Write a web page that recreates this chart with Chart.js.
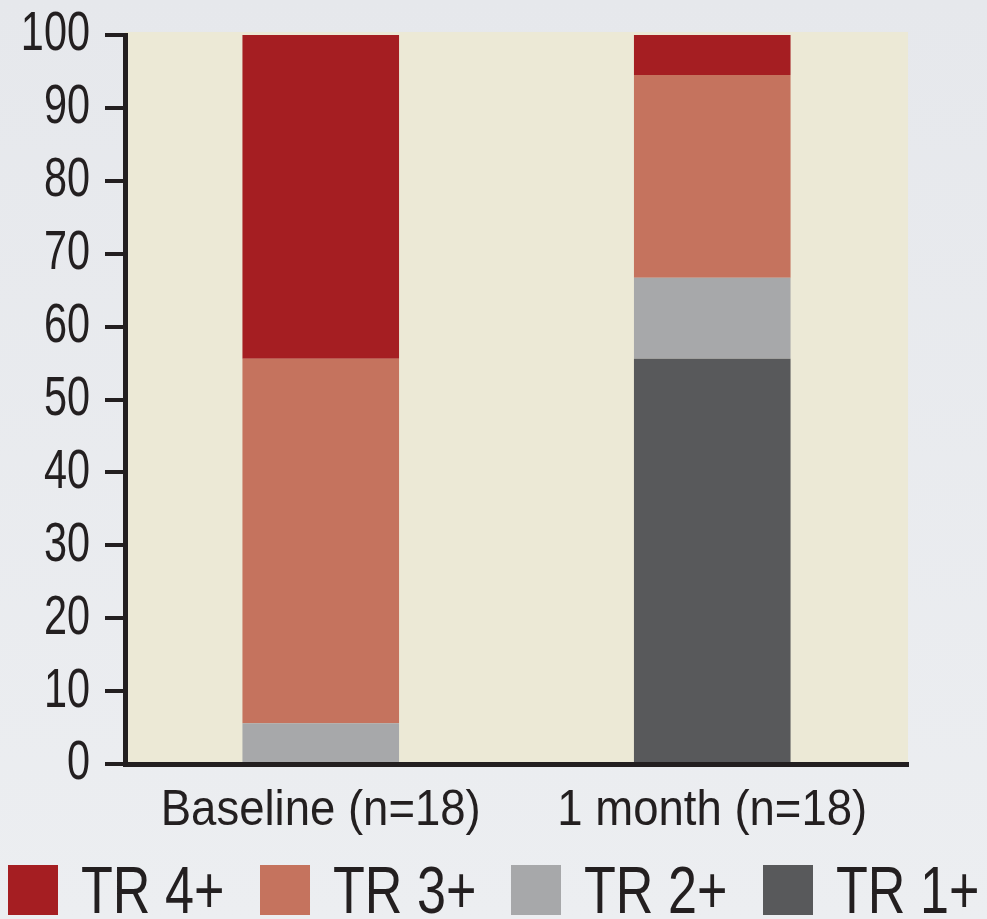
<!DOCTYPE html>
<html>
<head>
<meta charset="utf-8">
<script src="https://cdn.jsdelivr.net/npm/chart.js@4/dist/chart.umd.min.js"></script>
<style>
  html, body { margin: 0; padding: 0; }
  body {
    width: 987px; height: 919px; overflow: hidden;
    background: linear-gradient(180deg, #e6e8ec 0%, #eceef1 100%);
  }
  #wrap { position: relative; width: 987px; height: 919px; }
  #c { position: absolute; left: 0; top: 0; }
  #legend {
    position: absolute; left: 8px; top: 865px; width: 971px; height: 50px;
    display: flex; justify-content: space-between; align-items: center;
  }
  .item { display: flex; align-items: center; height: 50px; }
  .swatch { width: 50px; height: 50px; margin-right: 23px; flex: none; }
  .label { display: inline-block; white-space: nowrap; overflow: visible; height: 66px; }
  .label span {
    display: inline-block; transform-origin: 0 50%;
    font-family: "Liberation Sans", Arimo, Arial, sans-serif;
    font-size: 66px; line-height: 66px; color: #231f20;
  }
</style>
</head>
<body>
<div id="wrap">
  <canvas id="c" width="987" height="919"></canvas>
  <div id="legend"></div>
</div>
<script>
// Timepoints on the x axis
const categories = ['Baseline (n=18)', '1 month (n=18)'];
// Share of patients (%) in each tricuspid regurgitation grade
const tr1 = [0, 55.6];
const tr2 = [5.6, 11.1];
const tr3 = [50.0, 27.8];
const tr4 = [44.4, 5.6];
const yTicks = [0, 10, 20, 30, 40, 50, 60, 70, 80, 90, 100];

const FONT = '"Liberation Sans", Arimo, Arial, sans-serif';
const INK = '#231f20';
const Y_FONT = 56, X_FONT = 50;
// Horizontal squeeze per font size, giving the narrow typeface look
const SQUEEZE = { [Y_FONT]: 0.74, [X_FONT]: 0.91 };
const LEGEND_SQUEEZE = 0.79;

const canvas = document.getElementById('c');
const ctx = canvas.getContext('2d');

function squeezeFor(font) {
  const m = /(\d+(?:\.\d+)?)px/.exec(font);
  return (m && SQUEEZE[Math.round(parseFloat(m[1]))]) || 1;
}
// Condensed text: draw each string compressed around its anchor point
const baseFill = ctx.fillText;
ctx.fillText = function (text, x, y, maxWidth) {
  const k = squeezeFor(this.font);
  this.save();
  this.translate(x, y);
  this.scale(k, 1);
  if (maxWidth !== undefined) baseFill.call(this, text, 0, 0, maxWidth / k);
  else baseFill.call(this, text, 0, 0);
  this.restore();
};
const baseMeasure = ctx.measureText;
ctx.measureText = function (text) {
  const m = baseMeasure.call(this, text);
  const k = squeezeFor(this.font);
  return {
    width: m.width * k,
    actualBoundingBoxLeft: m.actualBoundingBoxLeft * k,
    actualBoundingBoxRight: m.actualBoundingBoxRight * k,
    actualBoundingBoxAscent: m.actualBoundingBoxAscent,
    actualBoundingBoxDescent: m.actualBoundingBoxDescent,
    fontBoundingBoxAscent: m.fontBoundingBoxAscent,
    fontBoundingBoxDescent: m.fontBoundingBoxDescent
  };
};

// Fills the plotting area with the cream panel colour
const panelBg = {
  id: 'panelBg',
  beforeDraw(chart) {
    const { ctx, chartArea: a } = chart;
    ctx.save();
    ctx.fillStyle = '#ece9d6';
    ctx.fillRect(a.left, a.top - 3, a.right - a.left, a.bottom - a.top + 3);
    ctx.restore();
  }
};

// Legend built as HTML from the chart's datasets (top grade first)
const htmlLegend = {
  id: 'htmlLegend',
  afterUpdate(chart) {
    const box = document.getElementById('legend');
    box.innerHTML = '';
    const probe = document.createElement('canvas').getContext('2d');
    probe.font = '66px ' + FONT;
    chart.data.datasets.slice().reverse().forEach(ds => {
      const item = document.createElement('div');
      item.className = 'item';
      const sw = document.createElement('div');
      sw.className = 'swatch';
      sw.style.background = ds.backgroundColor;
      const lab = document.createElement('div');
      lab.className = 'label';
      lab.style.width = (probe.measureText(ds.label).width * LEGEND_SQUEEZE) + 'px';
      const txt = document.createElement('span');
      txt.textContent = ds.label;
      txt.style.transform = 'scaleX(' + LEGEND_SQUEEZE + ')';
      lab.appendChild(txt);
      item.appendChild(sw);
      item.appendChild(lab);
      box.appendChild(item);
    });
  }
};

new Chart(ctx, {
  type: 'bar',
  data: {
    labels: categories,
    datasets: [
      { label: 'TR 1+', data: tr1, backgroundColor: '#58595b' },
      { label: 'TR 2+', data: tr2, backgroundColor: '#a7a8aa' },
      { label: 'TR 3+', data: tr3, backgroundColor: '#c5735e' },
      { label: 'TR 4+', data: tr4, backgroundColor: '#a51e22' }
    ]
  },
  options: {
    responsive: false,
    animation: false,
    devicePixelRatio: 1,
    layout: { padding: { top: 35, right: 79, bottom: 0, left: 0 } },
    datasets: { bar: { categoryPercentage: 1, barPercentage: 0.4, borderWidth: 0 } },
    scales: {
      x: {
        stacked: true,
        grid: { display: false, drawTicks: false },
        border: { display: true, color: INK, width: 5 },
        ticks: { color: INK, font: { family: FONT, size: X_FONT }, padding: 17, autoSkip: false, maxRotation: 0 },
        afterFit(scale) { scale.height = 155; scale.paddingLeft = 0; scale.paddingRight = 0; }
      },
      y: {
        stacked: true,
        min: 0, max: 100,
        afterBuildTicks(scale) { scale.ticks = yTicks.map(v => ({ value: v })); },
        grid: { drawOnChartArea: false, drawTicks: true, tickLength: 20, color: INK, lineWidth: 4 },
        border: { display: true, color: INK, width: 5 },
        ticks: { color: INK, font: { family: FONT, size: Y_FONT, lineHeight: 1 }, padding: 15, autoSkip: false },
        afterFit(scale) { scale.width = 125; scale.paddingTop = 0; scale.paddingBottom = 0; }
      }
    },
    plugins: {
      tooltip: { enabled: false },
      legend: { display: false }
    }
  },
  plugins: [panelBg, htmlLegend]
});
</script>
</body>
</html>
